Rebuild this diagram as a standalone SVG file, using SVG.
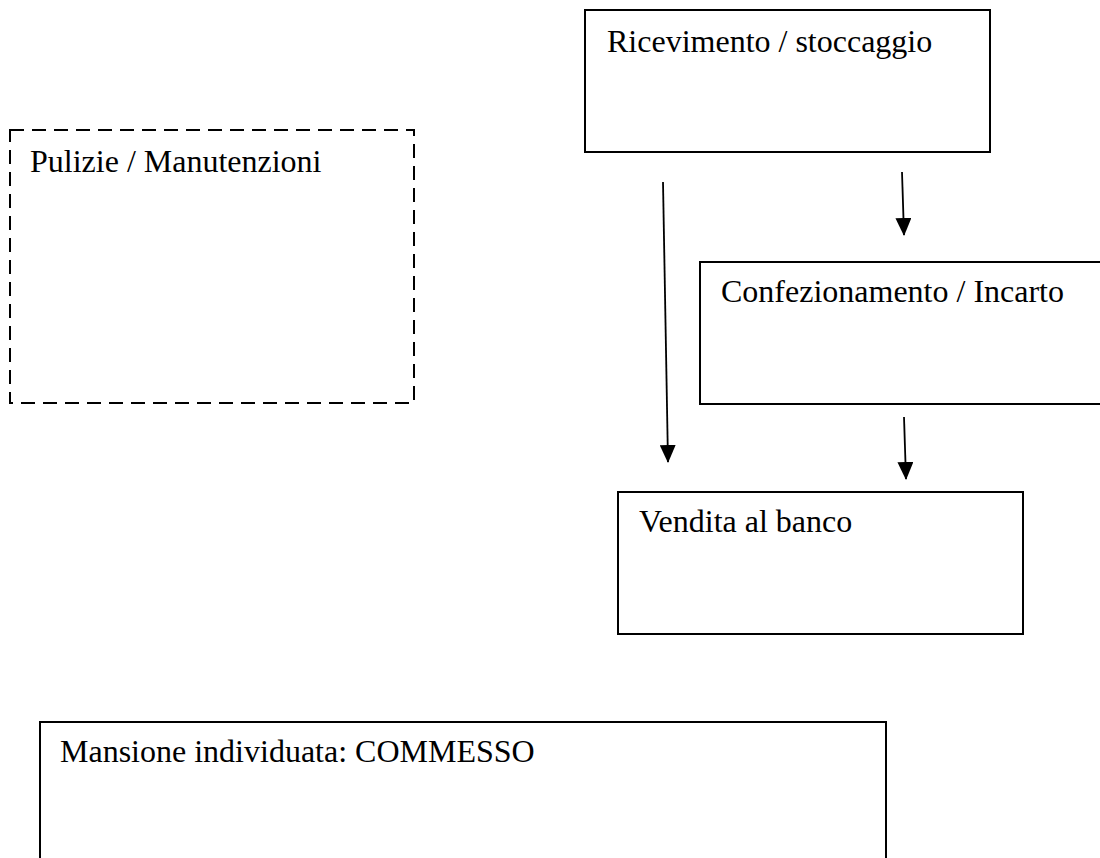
<svg xmlns="http://www.w3.org/2000/svg" width="1100" height="858" viewBox="0 0 1100 858">
<style>
.box{fill:#fff;stroke:#000;stroke-width:2}
.dash{fill:#fff;stroke:#000;stroke-width:2;stroke-dasharray:14 8}
.lbl{font-family:"Liberation Serif","Times New Roman",serif;font-size:32px;fill:#000}
.conn{stroke:#000;stroke-width:1.8;fill:none;marker-end:url(#ah)}
</style>
<defs>
<marker id="ah" markerUnits="userSpaceOnUse" markerWidth="18" markerHeight="16" refX="17" refY="8" orient="auto" viewBox="0 0 18 16">
<path d="M0,0 L18,8 L0,16 Z" fill="#000"/>
</marker>
</defs>
<rect width="1100" height="858" fill="#fff"/>
<g id="node-pulizie">
<rect class="dash" x="10" y="130" width="404" height="273"/>
<text class="lbl" x="30" y="172">Pulizie / Manutenzioni</text>
</g>
<g id="node-ricevimento">
<rect class="box" x="585" y="10" width="405" height="142"/>
<text class="lbl" x="607" y="52">Ricevimento / stoccaggio</text>
</g>
<g id="node-confezionamento">
<rect class="box" x="700" y="262" width="410" height="142"/>
<text class="lbl" x="721" y="302">Confezionamento / Incarto</text>
</g>
<g id="node-vendita">
<rect class="box" x="618" y="492" width="405" height="142"/>
<text class="lbl" x="639" y="532">Vendita al banco</text>
</g>
<g id="node-mansione">
<rect class="box" x="40" y="722" width="846" height="150"/>
<text class="lbl" x="60" y="762">Mansione individuata: COMMESSO</text>
</g>
<g id="connectors">
<line class="conn" x1="663" y1="182" x2="668" y2="462"/>
<line class="conn" x1="902" y1="172" x2="904" y2="235"/>
<line class="conn" x1="904" y1="417" x2="906" y2="479"/>
</g>
</svg>
